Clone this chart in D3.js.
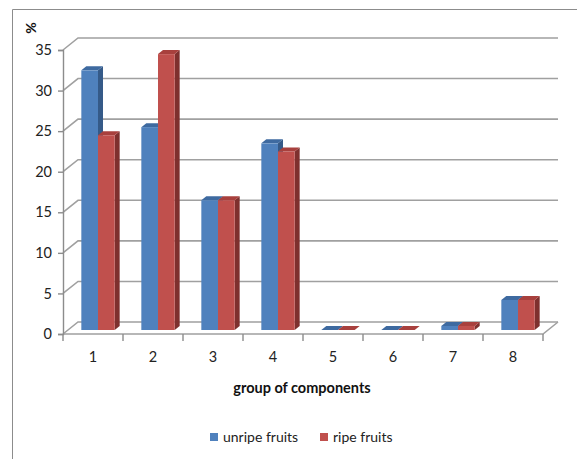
<!DOCTYPE html>
<html>
<head>
<meta charset="utf-8">
<script src="https://cdn.jsdelivr.net/npm/d3@7"></script>
<style>
  html, body { margin: 0; padding: 0; background: #fff; }
  svg { display: block; font-family: Lato, "Open Sans", sans-serif; }
</style>
</head>
<body>
<svg id="chart" width="577" height="459"></svg>
<script>
// Component groups and the share (%) of each group in unripe and ripe fruits
const categories = ["1", "2", "3", "4", "5", "6", "7", "8"];
const unripe = [32, 25, 16, 23, 0, 0, 0.5, 3.7];
const ripe = [24, 34, 16, 22, 0, 0, 0.5, 3.7];
const seriesNames = ["unripe fruits", "ripe fruits"];
const yTicks = [0, 5, 10, 15, 20, 25, 30, 35];

const seriesValues = [unripe, ripe];
const colors = {
  front: ["#4F81BD", "#C0504D"],
  top: ["#3E6AA0", "#A8403D"],
  side: ["#355A88", "#7E302E"]
};

const svg = d3.select("#chart");

// Chart frame (left and top border)
svg.append("path")
  .attr("d", "M12.5,459 V9.5 H577")
  .attr("fill", "none")
  .attr("stroke", "#8C8C8C")
  .attr("stroke-width", 1);

// Oblique depth of the 3D plot area
const DX = 15, DY = -12;
const x0 = 63, x1 = 543;

const y = d3.scaleLinear().domain([0, 35]).range([334, 50]);
const x = d3.scaleBand().domain(categories).range([x0, x1]).padding(0);
const xs = d3.scaleBand().domain(seriesNames).range([0, x.bandwidth()])
  .paddingInner(0).paddingOuter(0.8);

const grid = svg.append("g");
// Back wall and side wall gridlines
yTicks.forEach(t => {
  const yf = y(t);
  grid.append("path")
    .attr("d", `M${x0},${yf} L${x0 + DX},${yf + DY} H${x1 + DX}`)
    .attr("fill", "none")
    .attr("stroke", "#A0A0A0")
    .attr("stroke-width", 1.6);
});

// Floor edges
grid.append("path")
  .attr("d", `M${x0},${y(0)} H${x1} L${x1 + DX},${y(0) + DY}`)
  .attr("fill", "none")
  .attr("stroke", "#A0A0A0")
  .attr("stroke-width", 1.6);

// Value axis
const yAxis = d3.axisLeft(y).tickValues(yTicks).tickSize(5).tickPadding(6);
const ya = svg.append("g").attr("transform", `translate(${x0},0)`).call(yAxis);
ya.select(".domain").attr("stroke", "#8C8C8C").attr("stroke-width", 1.4);
ya.selectAll(".tick line").attr("stroke", "#8C8C8C").attr("stroke-width", 1.4);
ya.selectAll(".tick text").attr("font-size", 14.5).attr("fill", "#222")
  .attr("font-family", "Lato, 'Open Sans', sans-serif");

// Category axis
const xAxis = d3.axisBottom(x).tickSize(0).tickPadding(18);
const xa = svg.append("g").attr("transform", `translate(0,${y(0)})`).call(xAxis);
xa.select(".domain").remove();
xa.selectAll(".tick text").attr("font-size", 14.5).attr("fill", "#222")
  .attr("font-family", "Lato, 'Open Sans', sans-serif");
// Category separators
svg.append("g").selectAll("line")
  .data(d3.range(categories.length + 1))
  .join("line")
  .attr("x1", i => x0 + i * x.step()).attr("x2", i => x0 + i * x.step())
  .attr("y1", y(0)).attr("y2", y(0) + 7)
  .attr("stroke", "#8C8C8C").attr("stroke-width", 1.4);

// 3D columns: front face at 1/3 depth, back face at 2/3 depth
const fA = 1 / 3, fB = 2 / 3;
const bars = svg.append("g");
categories.forEach((c, ci) => {
  seriesNames.forEach((s, si) => {
    const v = seriesValues[si][ci];
    const left = x(c) + xs(s) + DX * fA;
    const right = left + xs.bandwidth();
    const top = y(v) + DY * fA;
    const bottom = y(0) + DY * fA;
    const ddx = DX * (fB - fA), ddy = DY * (fB - fA);
    // side face
    bars.append("path")
      .attr("d", `M${right},${bottom} V${top} L${right + ddx},${top + ddy} V${bottom + ddy} Z`)
      .attr("fill", colors.side[si]);
    // top face
    bars.append("path")
      .attr("d", `M${left},${top} H${right} L${right + ddx},${top + ddy} H${left + ddx} Z`)
      .attr("fill", colors.top[si]);
    // front face
    bars.append("rect")
      .attr("x", left).attr("y", top)
      .attr("width", xs.bandwidth()).attr("height", bottom - top)
      .attr("fill", colors.front[si]);
  });
});

// Axis titles
svg.append("text")
  .attr("transform", "translate(30,28) rotate(-90)")
  .attr("text-anchor", "middle")
  .attr("dominant-baseline", "central")
  .attr("font-size", 14).attr("font-weight", "bold").attr("fill", "#111")
  .text("%");

svg.append("text")
  .attr("x", 302).attr("y", 393)
  .attr("text-anchor", "middle")
  .attr("font-size", 14.5).attr("font-weight", "bold").attr("fill", "#111")
  .text("group of components");

// Legend
const legend = svg.append("g");
const legendX = [210, 320];
seriesNames.forEach((s, i) => {
  legend.append("rect")
    .attr("x", legendX[i]).attr("y", 433)
    .attr("width", 8).attr("height", 8)
    .attr("fill", colors.front[i]);
  legend.append("text")
    .attr("x", legendX[i] + 13).attr("y", 442)
    .attr("font-size", 14).attr("fill", "#222")
    .text(s);
});
</script>
</body>
</html>
